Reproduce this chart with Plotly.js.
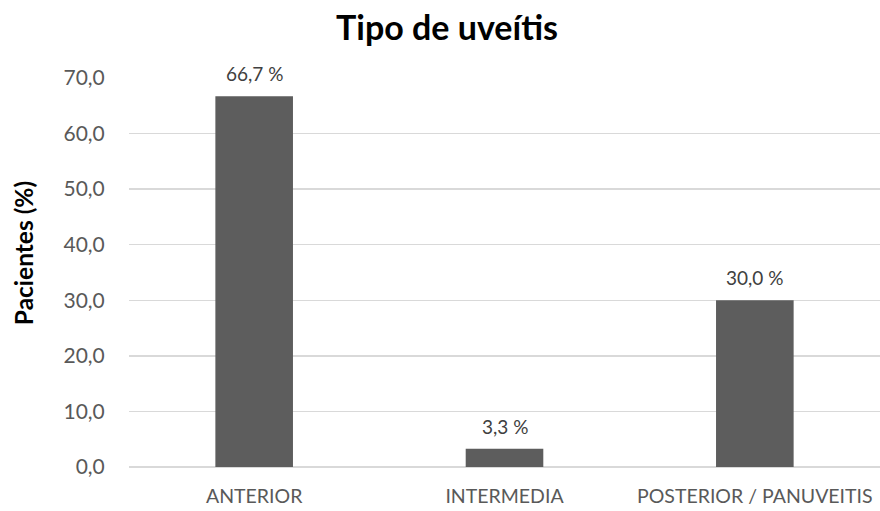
<!DOCTYPE html>
<html>
<head>
<meta charset="utf-8">
<script src="https://cdn.plot.ly/plotly-3.0.1.min.js"></script>
<style>html,body{margin:0;padding:0;background:#fff;}#chart{width:880px;height:511px;}</style>
</head>
<body>
<div id="chart"></div>
<script>
const categories = ["ANTERIOR", "INTERMEDIA", "POSTERIOR / PANUVEITIS"];
const values = [66.7, 3.3, 30.0];
const tickVals = [0, 10, 20, 30, 40, 50, 60, 70];

const FONT = "Lato, 'Open Sans', sans-serif";

const trace = {
  type: "bar",
  x: categories,
  y: values,
  marker: {color: "#5d5d5d"},
  hoverinfo: "none"
};

const annotations = categories.map((c, i) => ({
  x: c, y: values[i], xref: "x", yref: "y",
  text: values[i].toFixed(1).replace(".", ",") + " %",
  showarrow: false, yanchor: "bottom", yshift: 9,
  font: {family: FONT, size: 19, color: "#404040"}
}));

annotations.push({
  text: "<b>Pacientes (%)</b>",
  xref: "paper", yref: "paper",
  x: -0.141, y: 0.55, xanchor: "center", yanchor: "middle",
  textangle: -90, showarrow: false,
  font: {family: FONT, size: 24.5, color: "#000000"}
});

const layout = {
  width: 880, height: 511,
  margin: {l: 129, r: 0, t: 78, b: 44},
  paper_bgcolor: "#ffffff", plot_bgcolor: "#ffffff",
  separators: ", ",
  bargap: 0.69,
  showlegend: false,
  font: {family: FONT, color: "#595959"},
  title: {
    text: "<b>Tipo de uveítis</b>",
    x: 0.508, xanchor: "center", y: 0.945, yanchor: "middle",
    font: {family: FONT, size: 34, color: "#000000"}
  },
  xaxis: {
    type: "category",
    showgrid: false, zeroline: false, showline: false,
    ticks: "outside", ticklen: 12, tickcolor: "rgba(0,0,0,0)",
    tickfont: {family: FONT, size: 19.5, color: "#595959"}
  },
  yaxis: {
    range: [0, 70],
    tickvals: tickVals,
    tickformat: ".1f",
    showgrid: true, gridcolor: "#d9d9d9", gridwidth: 1.3,
    zeroline: true, zerolinecolor: "#d9d9d9", zerolinewidth: 1.3,
    showline: false,
    ticks: "outside", ticklen: 19, tickcolor: "rgba(0,0,0,0)",
    tickfont: {family: FONT, size: 21, color: "#595959"}
  },
  annotations: annotations
};

Plotly.newPlot("chart", [trace], layout, {staticPlot: true, displayModeBar: false});
</script>
</body>
</html>
